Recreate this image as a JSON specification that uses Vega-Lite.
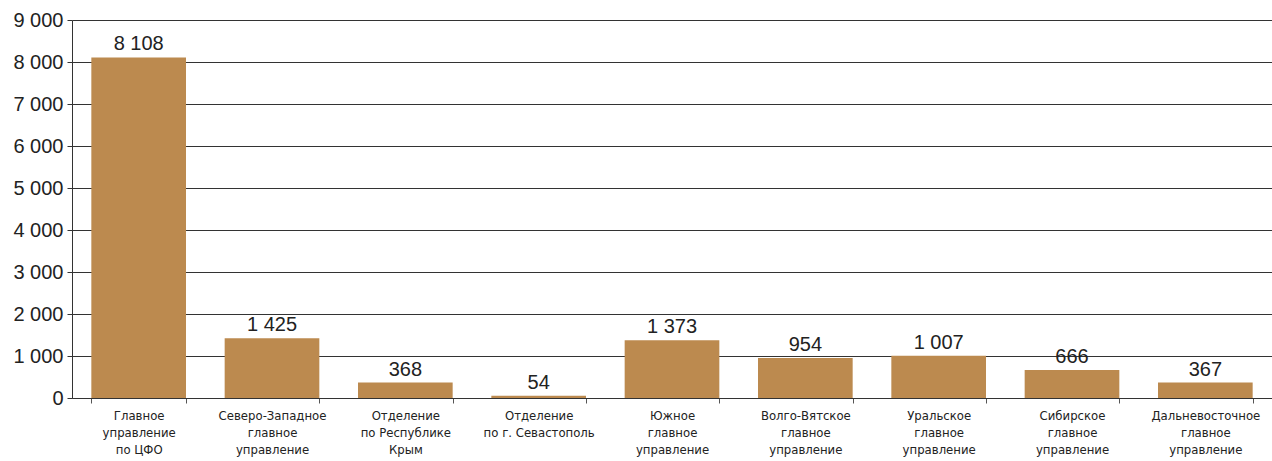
{
  "$schema": "https://vega.github.io/schema/vega-lite/v6.json",
  "autosize": {"type": "none"},
  "width": 1200,
  "height": 378,
  "padding": {"left": 72, "top": 20, "right": 0, "bottom": 63},
  "background": "white",
  "config": {
    "view": {"stroke": null},
    "font": "Liberation Sans"
  },
  "data": {
    "values": [
      {"unit": "Главное\nуправление\nпо ЦФО", "value": 8108},
      {"unit": "Северо-Западное\nглавное\nуправление", "value": 1425},
      {"unit": "Отделение\nпо Республике\nКрым", "value": 368},
      {"unit": "Отделение\nпо г. Севастополь", "value": 54},
      {"unit": "Южное\nглавное\nуправление", "value": 1373},
      {"unit": "Волго-Вятское\nглавное\nуправление", "value": 954},
      {"unit": "Уральское\nглавное\nуправление", "value": 1007},
      {"unit": "Сибирское\nглавное\nуправление", "value": 666},
      {"unit": "Дальневосточное\nглавное\nуправление", "value": 367}
    ]
  },
  "encoding": {
    "x": {
      "field": "unit",
      "type": "nominal",
      "sort": null,
      "title": null,
      "scale": {"paddingInner": 0.29, "paddingOuter": 0.145},
      "axis": {
        "labelAngle": 0,
        "labelExpr": "split(datum.label, '\\n')",
        "labelFont": "DejaVu Sans Condensed",
        "labelFontSize": 13,
        "labelLineHeight": 17,
        "labelColor": "#222222",
        "labelPadding": 6,
        "tickBand": "extent",
        "tickColor": "#555555",
        "tickSize": 5,
        "domainColor": "#333333"
      }
    },
    "y": {
      "field": "value",
      "type": "quantitative",
      "title": null,
      "scale": {"domain": [0, 9000], "nice": false},
      "axis": {
        "values": [0, 1000, 2000, 3000, 4000, 5000, 6000, 7000, 8000, 9000],
        "labelExpr": "replace(format(datum.value, ',d'), ',', ' ')",
        "labelFontSize": 20,
        "labelColor": "#222222",
        "labelPadding": 4,
        "tickSize": 5,
        "tickColor": "#333333",
        "domainColor": "#333333",
        "gridColor": "#333333",
        "gridOpacity": 1
      }
    }
  },
  "layer": [
    {"mark": {"type": "bar", "color": "#BC8A4F"}},
    {
      "mark": {"type": "text", "baseline": "bottom", "dy": -3, "fontSize": 20, "color": "#222222"},
      "encoding": {
        "text": {"field": "value_label", "type": "nominal"}
      },
      "transform": [
        {"calculate": "replace(format(datum.value, ',d'), ',', ' ')", "as": "value_label"}
      ]
    }
  ]
}
